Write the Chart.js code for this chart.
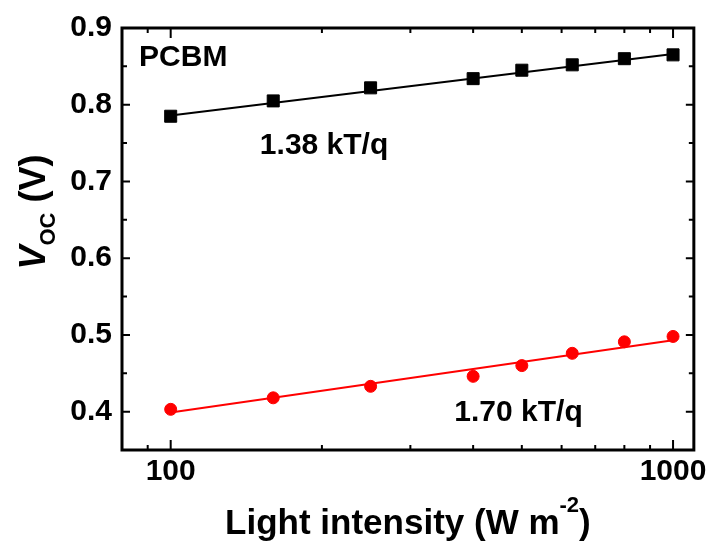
<!DOCTYPE html>
<html>
<head>
<meta charset="utf-8">
<script src="https://cdn.jsdelivr.net/npm/chart.js@4.4.1/dist/chart.umd.min.js"></script>
<style>
html,body{margin:0;padding:0;background:#fff;}
#wrap{width:711px;height:543px;}
</style>
</head>
<body>
<div id="wrap"><canvas id="c" width="711" height="543"></canvas></div>
<script>
// ---- data ----
const intensity = [100, 160, 250, 400, 500, 630, 800, 1000];
const vocPCBM   = [0.785, 0.805, 0.822, 0.834, 0.845, 0.852, 0.860, 0.865];
const vocRed    = [0.403, 0.418, 0.433, 0.446, 0.460, 0.476, 0.491, 0.498];
const fitX      = [100, 1000];
const fitPCBM   = [0.786, 0.866];
const fitRed    = [0.399, 0.493];
const xTickValues = [100, 1000];
const xMinorTicks = [90, 200, 300, 400, 500, 600, 700, 800, 900];
const yTickValues = [0.4, 0.5, 0.6, 0.7, 0.8, 0.9];
const yMinorTicks = [0.45, 0.55, 0.65, 0.75, 0.85];
const xRange = [80, 1100];
const yRange = [0.35, 0.9];
const labelPCBM = 'PCBM';
const labelFitPCBM = '1.38 kT/q';
const labelFitRed = '1.70 kT/q';

const FAM = '"Liberation Sans", Arial, Helvetica, sans-serif';
const pts = (xs, ys) => xs.map((x, i) => ({x: x, y: ys[i]}));

const framePlugin = {
  id: 'frame',
  afterDatasetsDraw(chart) {
    const {ctx, chartArea: a, scales} = chart;
    const xs = scales.x, ys = scales.y;
    ctx.save();
    ctx.strokeStyle = '#000';
    ctx.lineCap = 'butt';
    // ticks
    ctx.lineWidth = 2;
    const xTick = (v, len) => {
      const p = xs.getPixelForValue(v);
      ctx.beginPath();
      ctx.moveTo(p, a.bottom); ctx.lineTo(p, a.bottom - len);
      ctx.moveTo(p, a.top); ctx.lineTo(p, a.top + len);
      ctx.stroke();
    };
    const yTick = (v, len) => {
      const p = ys.getPixelForValue(v);
      ctx.beginPath();
      ctx.moveTo(a.left, p); ctx.lineTo(a.left + len, p);
      ctx.moveTo(a.right, p); ctx.lineTo(a.right - len, p);
      ctx.stroke();
    };
    xTickValues.forEach(v => xTick(v, 10));
    xMinorTicks.forEach(v => xTick(v, 5));
    yTickValues.forEach(v => yTick(v, 8));
    yMinorTicks.forEach(v => yTick(v, 5));
    // frame
    ctx.lineWidth = 3;
    ctx.strokeRect(a.left, a.top, a.right - a.left, a.bottom - a.top);
    ctx.restore();
  },
  afterDraw(chart) {
    const {ctx, chartArea: a, scales} = chart;
    const xs = scales.x, ys = scales.y;
    ctx.save();
    ctx.fillStyle = '#000';
    ctx.textBaseline = 'alphabetic';
    ctx.textAlign = 'left';
    // annotations
    ctx.font = 'bold 30px ' + FAM;
    ctx.fillText(labelPCBM, xs.getPixelForValue(86.5), ys.getPixelForValue(0.850));
    ctx.fillText(labelFitPCBM, xs.getPixelForValue(150.5), ys.getPixelForValue(0.7357));
    ctx.fillText(labelFitRed, xs.getPixelForValue(367), ys.getPixelForValue(0.388));

    // x title with superscript
    const fBig = 'bold 35px ' + FAM, fSup = 'bold 22px ' + FAM;
    const t1 = 'Light intensity (W m', t2 = '-2', t3 = ')';
    ctx.font = fBig; const w1 = ctx.measureText(t1).width, w3 = ctx.measureText(t3).width;
    ctx.font = fSup; const w2 = ctx.measureText(t2).width;
    const cx = (a.left + a.right) / 2;
    let sx = cx - (w1 + w2 + w3) / 2;
    const by = 534;
    ctx.font = fBig; ctx.fillText(t1, sx, by);
    ctx.font = fSup; ctx.fillText(t2, sx + w1, by - 22);
    ctx.font = fBig; ctx.fillText(t3, sx + w1 + w2, by);

    // y title with subscript, rotated
    const fIt = 'italic bold 36px ' + FAM, fSub = 'bold 22px ' + FAM, fReg = 'bold 36px ' + FAM;
    const s1 = 'V', s2 = 'OC', s3 = ' (V)';
    ctx.font = fIt; const u1 = ctx.measureText(s1).width;
    ctx.font = fSub; const u2 = ctx.measureText(s2).width;
    ctx.font = fReg; const u3 = ctx.measureText(s3).width;
    ctx.translate(45, 212);
    ctx.rotate(-Math.PI / 2);
    let st = -(u1 + u2 + u3) / 2;
    ctx.font = fIt; ctx.fillText(s1, st, 0);
    ctx.font = fSub; ctx.fillText(s2, st + u1, 10);
    ctx.font = fReg; ctx.fillText(s3, st + u1 + u2, 0);
    ctx.restore();
  }
};

new Chart(document.getElementById('c'), {
  type: 'line',
  data: {
    datasets: [
      {
        label: 'PCBM',
        data: pts(intensity, vocPCBM),
        showLine: false,
        pointStyle: 'rect',
        pointRadius: 8.5,
        pointBackgroundColor: '#000',
        pointBorderColor: '#000',
        pointBorderWidth: 1
      },
      {
        label: 'Reference',
        data: pts(intensity, vocRed),
        showLine: false,
        pointStyle: 'circle',
        pointRadius: 6,
        pointBackgroundColor: '#ff0000',
        pointBorderColor: '#ff0000',
        pointBorderWidth: 1
      },
      {
        label: labelFitPCBM,
        data: pts(fitX, fitPCBM),
        borderColor: '#000',
        borderWidth: 2,
        pointRadius: 0,
        fill: false
      },
      {
        label: labelFitRed,
        data: pts(fitX, fitRed),
        borderColor: '#ff0000',
        borderWidth: 2,
        pointRadius: 0,
        fill: false
      }
    ]
  },
  options: {
    responsive: false,
    animation: false,
    events: [],
    layout: { padding: { top: 25, right: 16, left: 0, bottom: 0 } },
    plugins: { legend: { display: false }, tooltip: { enabled: false } },
    scales: {
      x: {
        type: 'logarithmic',
        min: xRange[0], max: xRange[1],
        afterBuildTicks: s => { s.ticks = xTickValues.map(v => ({ value: v })); },
        afterFit: s => { s.height = 93; },
        grid: { display: false, drawTicks: false },
        border: { display: false },
        ticks: {
          autoSkip: false, maxRotation: 0, minRotation: 0, padding: 4,
          color: '#000', font: { family: FAM, size: 30, weight: 'bold' },
          callback: v => String(v)
        }
      },
      y: {
        type: 'linear',
        min: yRange[0], max: yRange[1],
        afterBuildTicks: s => { s.ticks = yTickValues.map(v => ({ value: v })); },
        afterFit: s => { s.width = 122; },
        grid: { display: false, drawTicks: false },
        border: { display: false },
        ticks: {
          autoSkip: false, padding: 10,
          color: '#000', font: { family: FAM, size: 30, weight: 'bold' },
          callback: v => Number(v).toFixed(1)
        }
      }
    }
  },
  plugins: [framePlugin]
});
</script>
</body>
</html>
